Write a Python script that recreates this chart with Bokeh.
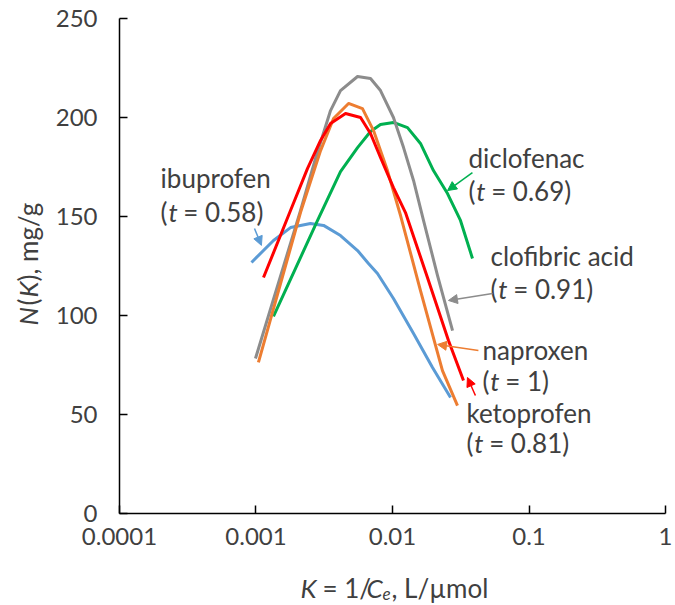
import math
from bokeh.plotting import figure
from bokeh.models import Arrow, NormalHead, FixedTicker, Label, CustomJSTickFormatter, Range1d
from bokeh.embed import file_html
from bokeh.resources import INLINE

# ---------------- data ----------------
x_ticks = [0.0001, 0.001, 0.01, 0.1, 1]
y_ticks = [0, 50, 100, 150, 200, 250]

ibuprofen_K = [0.000927, 0.001343, 0.001791, 0.002506, 0.003126, 0.004159, 0.005546,
               0.006668, 0.007762, 0.010162, 0.014256, 0.019634, 0.026607]
ibuprofen_N = [126.8, 137.9, 144.4, 146.5, 145.5, 140.4, 132.8,
               126.3, 121.2, 108.6, 90.9, 73.7, 58.6]

clofibric_K = [0.000991, 0.002118, 0.002729, 0.003516, 0.004159, 0.005546, 0.006902,
               0.008166, 0.010162, 0.012050, 0.014256, 0.016866, 0.021380, 0.027542]
clofibric_N = [78.3, 153.0, 179.3, 203.5, 213.6, 220.7, 219.7,
               213.6, 200.0, 184.8, 168.2, 148.0, 120.2, 92.4]

naproxen_K = [0.001042, 0.002118, 0.002972, 0.003698, 0.004764, 0.006026,
              0.007261, 0.009183, 0.011455, 0.016032, 0.023227, 0.029923]
naproxen_N = [76.3, 152.0, 183.3, 199.5, 207.1, 204.5,
              193.4, 173.2, 150.5, 112.6, 72.2, 54.5]

ketoprofen_K = [0.001135, 0.001790, 0.002382, 0.002972, 0.003516, 0.004529, 0.005834,
                0.006902, 0.008166, 0.010162, 0.012445, 0.018030, 0.025704, 0.033113]
ketoprofen_N = [119.2, 153.0, 174.2, 188.4, 197.0, 202.0, 200.0,
                191.9, 179.8, 164.6, 152.0, 119.2, 87.4, 67.2]

diclofenac_K = [0.001343, 0.001945, 0.002825, 0.004159, 0.005546, 0.006902,
                0.008166, 0.010162, 0.012882, 0.016032, 0.019953, 0.025293, 0.031477,
                0.038548]
diclofenac_N = [99.5, 123.7, 148.0, 172.7, 184.8, 192.9,
                196.5, 197.5, 194.9, 186.9, 173.2, 161.6, 148.0, 128.8]

names = ["ibuprofen", "diclofenac", "clofibric acid", "naproxen", "ketoprofen"]
t_values = ["0.58", "0.69", "0.91", "1", "0.81"]

# ---------------- style ----------------
FONT = "Lato"
FS = 26
TICK_FS = 24
TXT = "#404040"
C_IBU = "#5B9BD5"
C_NAP = "#ED7D31"
C_CLO = "#8C8C8C"
C_KET = "#FF0000"
C_DIC = "#00B050"

W, H = 674, 603
# visible window around the axes box (axis box: K 1e-4..1, N 0..250)
X_LO, X_HI = -4.87179, 0.06593
Y_LO, Y_HI = -45.45, 259.09

p = figure(width=W, height=H, x_axis_type="log",
           x_range=Range1d(10 ** X_LO, 10 ** X_HI), y_range=Range1d(Y_LO, Y_HI),
           output_backend="svg", toolbar_location=None,
           min_border=0, min_border_left=0, min_border_right=0,
           min_border_top=0, min_border_bottom=0)
p.outline_line_color = None
p.grid.grid_line_color = None
p.background_fill_color = "white"
p.border_fill_color = "white"

for ax in (p.xaxis[0], p.yaxis[0]):
    ax.axis_line_color = "black"
    ax.axis_line_width = 1.5
    ax.major_tick_line_color = "black"
    ax.major_tick_line_width = 1.5
    ax.major_tick_in = 8
    ax.major_tick_out = 0
    ax.minor_tick_line_color = None
    ax.major_label_text_font = FONT
    ax.major_label_text_font_size = f"{TICK_FS}px"
    ax.major_label_text_color = TXT

p.xaxis.ticker = FixedTicker(ticks=x_ticks)
p.xaxis.formatter = CustomJSTickFormatter(code="return tick.toString();")
p.xaxis.major_label_standoff = 14
p.xaxis.fixed_location = 0
p.xaxis.bounds = (x_ticks[0], x_ticks[-1])
p.yaxis.ticker = FixedTicker(ticks=y_ticks)
p.yaxis.major_label_standoff = 22
p.yaxis.fixed_location = x_ticks[0]
p.yaxis.bounds = (y_ticks[0], y_ticks[-1])

# ---------------- curves ----------------
series = [
    (ibuprofen_K, ibuprofen_N, C_IBU),
    (diclofenac_K, diclofenac_N, C_DIC),
    (clofibric_K, clofibric_N, C_CLO),
    (naproxen_K, naproxen_N, C_NAP),
    (ketoprofen_K, ketoprofen_N, C_KET),
]
for k, n, c in series:
    p.line(k, n, line_color=c, line_width=3, line_join="round")

# ---------------- annotations ----------------
def lab(x, y, text, dx=0, dy=0, italic=False, size=FS, angle=0.0):
    p.add_layout(Label(x=x, y=y, text=text, x_offset=dx, y_offset=dy,
                       text_font=FONT, text_font_size=f"{size}px",
                       text_font_style="italic" if italic else "normal",
                       text_color=TXT, text_align="left", text_baseline="middle",
                       angle=angle))

W_PAREN = 7.8
W_T = 9.4
W_SP = 5.5

def t_line(x, y, tv):
    lab(x, y, "(")
    lab(x, y, "t", dx=W_PAREN, italic=True)
    lab(x, y, "= " + tv + ")", dx=W_PAREN + W_T + W_SP)

label_pos = [
    (0.000200, 169.2, 152.5),
    (0.0360, 179.3, 163.1),
    (0.0522, 130.3, 113.6),
    (0.0456, 82.8, 66.7),
    (0.0348, 51.0, 35.4),
]
for name, tv, (lx, y1, y2) in zip(names, t_values, label_pos):
    lab(lx, y1, name)
    t_line(lx, y2, tv)

arrows = [
    (0.000975, 143.9, 0.001096, 135.4, C_IBU),
    (0.0385, 172.2, 0.0253, 163.1, C_DIC),
    (0.0541, 111.1, 0.0257, 107.6, C_CLO),
    (0.0426, 82.3, 0.0214, 85.4, C_NAP),
    (0.0405, 59.6, 0.0354, 68.7, C_KET),
]
for xs, ys, xe, ye, c in arrows:
    p.add_layout(Arrow(x_start=xs, y_start=ys, x_end=xe, y_end=ye,
                       line_color=c, line_width=1.5,
                       end=NormalHead(size=9, fill_color=c, line_color=c, line_width=1)))

# ---------------- axis titles (rich text) ----------------
# y title: "N(K), mg/g" rotated, reading upward
YX, YY = 2.12e-5, 95
lab(YX, YY, "N", italic=True, angle=math.pi / 2)
lab(YX, YY, "(", dy=20, angle=math.pi / 2)
lab(YX, YY, "K", dy=28, italic=True, angle=math.pi / 2)
lab(YX, YY, "), mg/g", dy=44, angle=math.pi / 2)

# x title: "K = 1/Ce, L/µmol"
XX, XY = 0.00212, -37.4
lab(XX, XY, "K", italic=True)
lab(XX, XY, "= 1/", dx=22)
lab(XX, XY, "C", dx=66, italic=True)
lab(XX, XY, "e", dx=82, dy=-6, italic=True, size=17)
lab(XX, XY, ", L/\u00b5mol", dx=91)

open("out.html", "w").write(file_html(p, INLINE))
